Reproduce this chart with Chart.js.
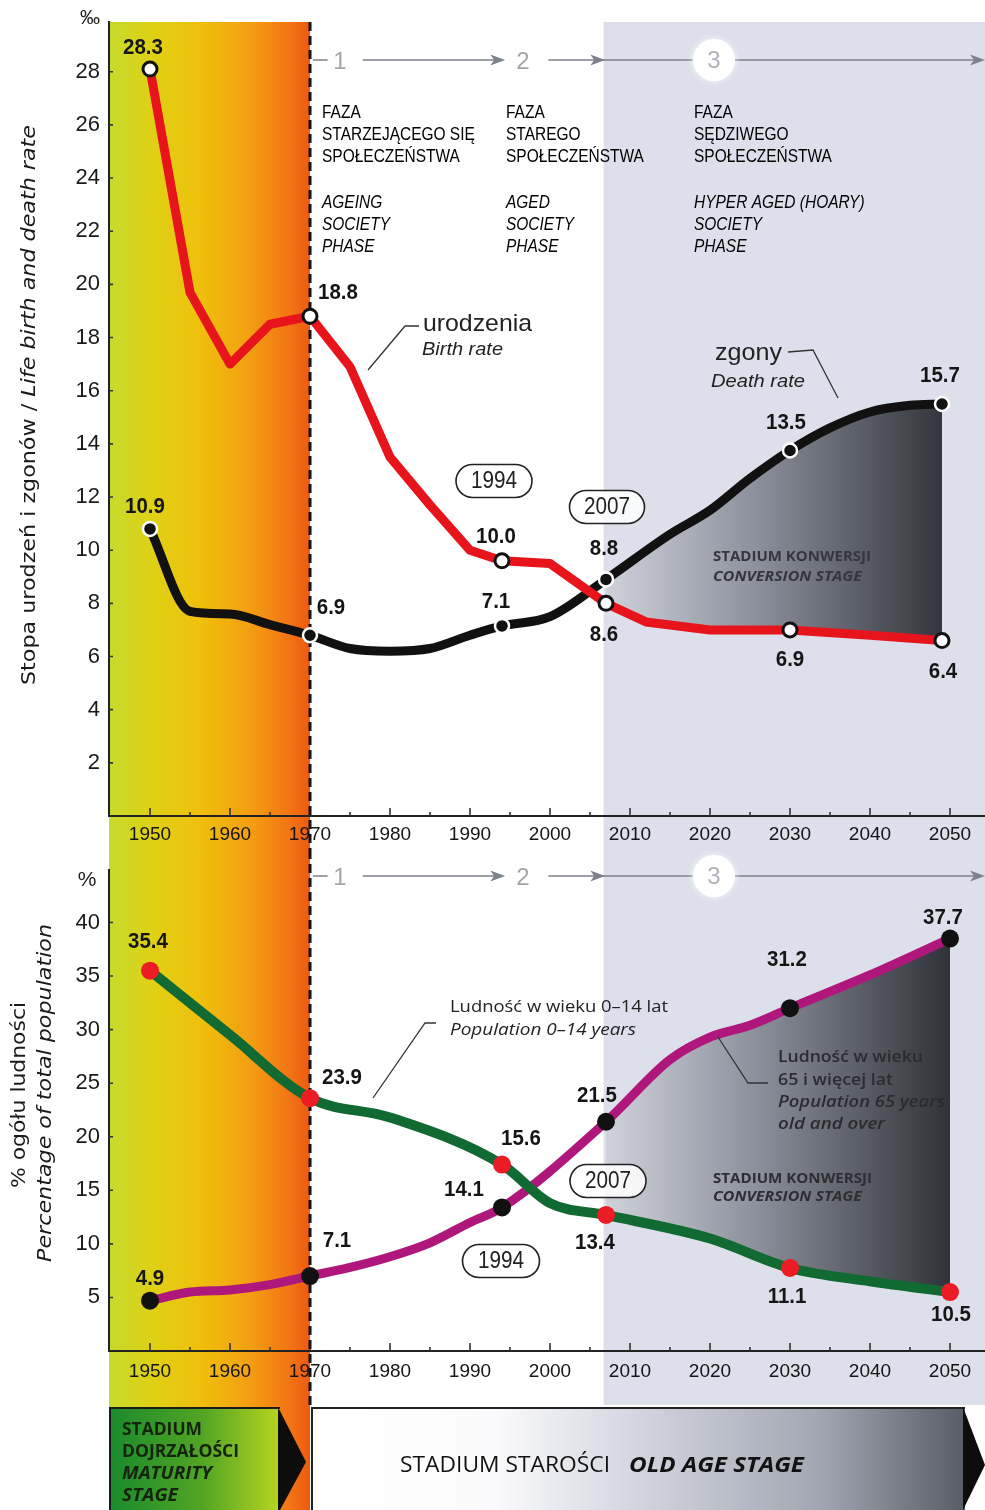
<!DOCTYPE html>
<html>
<head>
<meta charset="utf-8">
<script src="https://cdn.jsdelivr.net/npm/chart.js@4.4.1/dist/chart.umd.min.js"></script>
<style>
html, body { margin: 0; padding: 0; background: #fff; }
#wrap { width: 985px; height: 1510px; position: relative; overflow: hidden; }
canvas { display: block; }
</style>
</head>
<body>
<div id="wrap">
  <canvas id="rates" width="985" height="850"></canvas>
  <canvas id="shares" width="985" height="660"></canvas>
</div>
<script>
// ---- data ----
// top: births and deaths per 1000
const birthYears = [1950, 1955, 1960, 1965, 1970, 1975, 1980, 1985, 1990, 1994, 2000, 2007, 2012, 2020, 2030, 2040, 2049];
const birthRate  = [28.1, 19.7, 17.0, 18.5, 18.8, 16.9, 13.5, 11.7, 10.0, 9.6, 9.5, 8.0, 7.3, 7.0, 7.0, 6.8, 6.6];
const deathYears = [1950, 1955, 1960, 1965, 1970, 1975, 1980, 1985, 1990, 1994, 2000, 2007, 2015, 2020, 2025, 2030, 2035, 2040, 2045, 2049];
const deathRate  = [10.8, 7.7, 7.6, 7.2, 6.8, 6.3, 6.2, 6.3, 6.8, 7.15, 7.5, 8.9, 10.6, 11.5, 12.7, 13.75, 14.6, 15.2, 15.45, 15.5];

const birthMarks  = [1950, 1970, 1994, 2007, 2030, 2049];
const birthLabels = ['28.3', '18.8', '10.0', '8.6', '6.9', '6.4'];
const deathMarks  = [1950, 1970, 1994, 2007, 2030, 2049];
const deathLabels = ['10.9', '6.9', '7.1', '8.8', '13.5', '15.7'];

// bottom: share of population, %
const youngYears = [1950, 1960, 1970, 1980, 1994, 2000, 2007, 2020, 2030, 2040, 2050];
const youngShare = [35.5, 29.5, 23.6, 21.8, 17.4, 13.8, 12.7, 10.5, 7.75, 6.5, 5.5];
const oldYears   = [1950, 1955, 1960, 1965, 1970, 1975, 1980, 1985, 1990, 1994, 2007, 2015, 2020, 2025, 2030, 2040, 2050];
const oldShare   = [4.7, 5.5, 5.7, 6.2, 7.0, 7.8, 8.8, 10.1, 12.0, 13.4, 21.4, 27.2, 29.3, 30.4, 32.0, 35.1, 38.5];

const youngMarks  = [1950, 1970, 1994, 2007, 2030, 2050];
const youngLabels = ['35.4', '23.9', '15.6', '13.4', '11.1', '10.5'];
const oldMarks    = [1950, 1970, 1994, 2007, 2030, 2050];
const oldLabels   = ['4.9', '7.1', '14.1', '21.5', '31.2', '37.7'];

const xTicks = [1950, 1960, 1970, 1980, 1990, 2000, 2010, 2020, 2030, 2040, 2050];
const rateTicks = [2, 4, 6, 8, 10, 12, 14, 16, 18, 20, 22, 24, 26, 28];
const shareTicks = [5, 10, 15, 20, 25, 30, 35, 40];

// ---- layout (label nudges in px, kept apart from the data) ----
const birthNudge = [[-7, -21], [28, -23], [-6, -24], [-2, 32], [0, 30], [1, 31]];
const deathNudge = [[-5, -22], [21, -27], [-6, -24], [-2, -30], [-4, -28], [-2, -28]];
const youngNudge = [[-2, -29], [32, -20], [19, -26], [-11, 28], [-3, 29], [1, 23]];
const oldNudge   = [[0, -22], [27, -35], [-38, -18], [-9, -26], [-3, -48], [-7, -21]];

const X_MIN = 1944.875, X_MAX = 2054.375;
const GRAY_FROM = 2006.7;
const SANS = '"Liberation Sans", Arial, sans-serif';
const HUMAN = '"Open Sans", "Noto Sans", sans-serif';

const pts = (xs, ys) => xs.map((x, i) => ({ x: x, y: ys[i] }));
const from2007 = (xs, ys) => pts(xs, ys).filter(p => p.x >= 2007);
const marked = (years, marks, r) => c => marks.includes(years[c.dataIndex]) ? r : 0;

function say(ctx, s, x, y, font, color, opts) {
    opts = opts || {};
    ctx.save();
    ctx.font = font;
    ctx.fillStyle = color;
    ctx.textBaseline = 'middle';
    ctx.textAlign = 'left';
    const w = ctx.measureText(s).width;
    const sx = opts.width ? opts.width / w : (opts.sx || 1);
    let x0 = x;
    if (opts.align === 'center') x0 = x - w * sx / 2;
    if (opts.align === 'right') x0 = x - w * sx;
    ctx.translate(x0, y);
    ctx.scale(sx, 1);
    ctx.fillText(s, 0, 0);
    ctx.restore();
}

function pill(ctx, cx, cy, w, h, text) {
    ctx.save();
    ctx.beginPath();
    ctx.roundRect(cx - w / 2, cy - h / 2, w, h, h / 2);
    ctx.fillStyle = 'rgba(255,255,255,0.85)';
    ctx.fill();
    ctx.lineWidth = 1.6;
    ctx.strokeStyle = '#222';
    ctx.stroke();
    ctx.restore();
    say(ctx, text, cx, cy + 1, '23px ' + SANS, '#222', { align: 'center', sx: 0.9 });
}

function leader(ctx, pts) {
    ctx.save();
    ctx.strokeStyle = '#333';
    ctx.lineWidth = 1.3;
    ctx.beginPath();
    pts.forEach((p, i) => i ? ctx.lineTo(p[0], p[1]) : ctx.moveTo(p[0], p[1]));
    ctx.stroke();
    ctx.restore();
}

function arrowHead(ctx, x, y) {
    ctx.beginPath();
    ctx.moveTo(x, y);
    ctx.lineTo(x - 15, y - 5.5);
    ctx.lineTo(x - 11, y);
    ctx.lineTo(x - 15, y + 5.5);
    ctx.closePath();
    ctx.fill();
}

function convFill(c) {
    const ch = c.chart;
    if (!ch.chartArea) return 'rgba(0,0,0,0)';
    const xs = ch.scales.x;
    const g = ch.ctx.createLinearGradient(xs.getPixelForValue(2007), 0, xs.getPixelForValue(2050), 0);
    g.addColorStop(0, '#cfd2db');
    g.addColorStop(0.45, '#8a8e98');
    g.addColorStop(1, '#2f3238');
    return g;
}

// background bands, dashed 1970 line and phase arrows
function drawBands(chart, top, bottom, grayBottom) {
    const { ctx } = chart;
    const xs = chart.scales.x, a = chart.chartArea;
    const x70 = xs.getPixelForValue(1970), xg = xs.getPixelForValue(GRAY_FROM);
    const g = ctx.createLinearGradient(a.left, 0, x70, 0);
    g.addColorStop(0, '#c7da2c');
    g.addColorStop(0.22, '#dfd014');
    g.addColorStop(0.45, '#efc00c');
    g.addColorStop(0.7, '#f39f12');
    g.addColorStop(0.9, '#f27414');
    g.addColorStop(1, '#ee5a10');
    ctx.save();
    ctx.fillStyle = g;
    ctx.fillRect(a.left, top, x70 - a.left, bottom - top);
    ctx.fillStyle = '#dde0eb';
    ctx.fillRect(xg, top, chart.width - xg, grayBottom - top);
    ctx.restore();
}

function drawDash(chart, top, bottom) {
    const { ctx } = chart;
    const x = chart.scales.x.getPixelForValue(1970);
    ctx.save();
    ctx.strokeStyle = '#111';
    ctx.lineWidth = 3;
    ctx.setLineDash([9, 5]);
    ctx.beginPath();
    ctx.moveTo(x, top);
    ctx.lineTo(x, bottom);
    ctx.stroke();
    ctx.restore();
}

function drawPhases(chart, y) {
    const { ctx } = chart;
    const px = v => chart.scales.x.getPixelForValue(v);
    ctx.save();
    ctx.strokeStyle = '#7d818b';
    ctx.fillStyle = '#7d818b';
    ctx.lineWidth = 1.5;
    ctx.beginPath();
    ctx.moveTo(px(1970) + 3, y); ctx.lineTo(px(1972.2), y);
    ctx.moveTo(px(1976.6), y); ctx.lineTo(px(1993.6), y);
    ctx.moveTo(px(1999.8), y); ctx.lineTo(px(2018), y);
    ctx.moveTo(px(2023), y); ctx.lineTo(px(X_MAX) - 4, y);
    ctx.stroke();
    arrowHead(ctx, px(1994.4), y);
    arrowHead(ctx, px(2006.9), y);
    arrowHead(ctx, px(X_MAX), y);
    ctx.fillStyle = '#fff';
    ctx.shadowColor = 'rgba(255,255,255,0.9)';
    ctx.shadowBlur = 6;
    ctx.beginPath();
    ctx.arc(px(2020.5), y, 21, 0, Math.PI * 2);
    ctx.fill();
    ctx.restore();
    say(ctx, '1', px(1973.75), y + 2, '24px ' + SANS, '#a3a6ad', { align: 'center' });
    say(ctx, '2', px(1996.6), y + 2, '24px ' + SANS, '#a3a6ad', { align: 'center' });
    say(ctx, '3', px(2020.5), y + 1, '24px ' + SANS, '#b0b3ba', { align: 'center' });
}

function drawTickMarks(chart, yTicks) {
    const { ctx } = chart;
    const xs = chart.scales.x, ys = chart.scales.y, a = chart.chartArea;
    ctx.save();
    ctx.strokeStyle = '#333';
    ctx.lineWidth = 1.6;
    ctx.beginPath();
    for (let yr = 1950; yr <= 2050; yr += 5) {
        const x = xs.getPixelForValue(yr);
        ctx.moveTo(x, a.bottom);
        ctx.lineTo(x, a.bottom - (yr % 10 === 0 ? 8 : 4));
    }
    yTicks.forEach(v => {
        const y = ys.getPixelForValue(v);
        ctx.moveTo(a.left, y);
        ctx.lineTo(a.left + 4, y);
    });
    ctx.stroke();
    ctx.restore();
}

function drawValueLabels(chart) {
    const { ctx } = chart;
    chart.data.datasets.forEach((ds, i) => {
        if (!ds.valueLabels) return;
        const meta = chart.getDatasetMeta(i);
        ds.valueLabels.marks.forEach((yr, k) => {
            const idx = ds.data.findIndex(p => p.x === yr);
            const el = meta.data[idx];
            if (!el) return;
            const off = ds.valueLabels.nudge[k];
            say(ctx, ds.valueLabels.text[k], el.x + off[0], el.y + off[1], 'bold 22px ' + SANS, '#151515', { align: 'center', sx: 0.93 });
        });
    });
}

function scalesFor(yMin, yMax, yTicks, xHeight, xPad) {
    return {
        x: {
            type: 'linear', min: X_MIN, max: X_MAX,
            afterFit: s => { s.height = xHeight; s.paddingLeft = 0; s.paddingRight = 0; },
            afterBuildTicks: s => { s.ticks = xTicks.map(v => ({ value: v })); },
            ticks: { color: '#151515', font: { family: SANS, size: 19 }, padding: xPad, maxRotation: 0, autoSkip: false, callback: v => String(v) },
            grid: { display: false, drawTicks: false },
            border: { color: '#222', width: 2 }
        },
        y: {
            min: yMin, max: yMax,
            afterFit: s => { s.width = 109; s.paddingTop = 0; s.paddingBottom = 0; },
            afterBuildTicks: s => { s.ticks = yTicks.map(v => ({ value: v })); },
            ticks: { color: '#1a1a1a', font: { family: SANS, size: 22 }, padding: 9, callback: v => String(v) },
            grid: { display: false, drawTicks: false },
            border: { color: '#222', width: 2 }
        }
    };
}

const lineStyle = { borderJoinStyle: 'round', borderCapStyle: 'round', fill: false };

// ---------------- top chart: birth and death rate ----------------
const ratesDecor = {
    id: 'ratesDecor',
    beforeDraw(chart) {
        drawBands(chart, chart.chartArea.top, chart.height, chart.height);
    },
    beforeDatasetsDraw(chart) {
        const { ctx } = chart;
        drawTickMarks(chart, rateTicks);
        drawDash(chart, chart.chartArea.top, chart.height);
        drawPhases(chart, 60);

        const ph = '18px ' + SANS, phi = 'italic 18px ' + SANS, c = '#000';
        const cols = [
            { x: 322, pl: ['FAZA', 'STARZEJĄCEGO SIĘ', 'SPOŁECZEŃSTWA'], en: ['AGEING', 'SOCIETY', 'PHASE'] },
            { x: 506, pl: ['FAZA', 'STAREGO', 'SPOŁECZEŃSTWA'], en: ['AGED', 'SOCIETY', 'PHASE'] },
            { x: 694, pl: ['FAZA', 'SĘDZIWEGO', 'SPOŁECZEŃSTWA'], en: ['HYPER AGED (HOARY)', 'SOCIETY', 'PHASE'] }
        ];
        cols.forEach(col => {
            col.pl.forEach((s, i) => say(ctx, s, col.x, 113 + i * 22, ph, c, { sx: 0.86 }));
            col.en.forEach((s, i) => say(ctx, s, col.x, 203 + i * 22, phi, c, { sx: 0.86 }));
        });

        say(ctx, 'urodzenia', 423, 324, '24px ' + SANS, '#222', { width: 109 });
        say(ctx, 'Birth rate', 422, 350, 'italic 18px ' + SANS, '#222', { width: 81 });
        leader(ctx, [[368, 370], [405, 326], [419, 326]]);
        say(ctx, 'zgony', 715, 353, '24px ' + SANS, '#222', { width: 67 });
        say(ctx, 'Death rate', 711, 382, 'italic 18px ' + SANS, '#222', { width: 94 });
        leader(ctx, [[788, 352], [813, 350], [838, 398]]);

        pill(ctx, 494, 481, 76, 33, '1994');
        pill(ctx, 607, 507, 75, 33, '2007');

        // "per mille" unit and y title
        say(ctx, '‰', 90, 18, '20px ' + SANS, '#222', { align: 'center' });
        ctx.save();
        ctx.translate(30, 405);
        ctx.rotate(-Math.PI / 2);
        const f1 = '20px "DejaVu Sans", sans-serif', f2 = 'italic 20px "DejaVu Sans", sans-serif';
        const t1 = 'Stopa urodzeń i zgonów / ', t2 = 'Life birth and death rate';
        ctx.font = f1; const w1 = ctx.measureText(t1).width;
        ctx.font = f2; const w2 = ctx.measureText(t2).width;
        const k = 560 / (w1 + w2);
        ctx.scale(k, 1);
        ctx.textBaseline = 'middle';
        ctx.fillStyle = '#1a1a1a';
        ctx.font = f1; ctx.fillText(t1, -(w1 + w2) / 2, 0);
        ctx.font = f2; ctx.fillText(t2, -(w1 + w2) / 2 + w1, 0);
        ctx.restore();
    },
    afterDatasetsDraw(chart) {
        const { ctx } = chart;
        say(ctx, 'STADIUM KONWERSJI', 713, 557, 'bold 15px ' + HUMAN, '#34363c', { width: 158 });
        say(ctx, 'CONVERSION STAGE', 713, 577, 'italic bold 15px ' + HUMAN, '#34363c', { width: 149 });
        drawValueLabels(chart);
    }
};

new Chart(document.getElementById('rates'), {
    type: 'line',
    data: {
        datasets: [
            Object.assign({
                label: 'Birth rate', data: pts(birthYears, birthRate),
                borderColor: '#e8141c', borderWidth: 9, tension: 0,
                pointRadius: marked(birthYears, birthMarks, 7),
                pointBackgroundColor: '#fff', pointBorderColor: '#111', pointBorderWidth: 3,
                valueLabels: { marks: birthMarks, text: birthLabels, nudge: birthNudge }
            }, lineStyle),
            Object.assign({
                label: 'Death rate', data: pts(deathYears, deathRate),
                borderColor: '#111', borderWidth: 9, cubicInterpolationMode: 'monotone',
                pointRadius: marked(deathYears, deathMarks, 7),
                pointBackgroundColor: '#111', pointBorderColor: '#fff', pointBorderWidth: 2.5,
                valueLabels: { marks: deathMarks, text: deathLabels, nudge: deathNudge }
            }, lineStyle),
            {
                label: 'conv-upper', data: from2007(deathYears, deathRate),
                borderWidth: 0, pointRadius: 0, cubicInterpolationMode: 'monotone',
                fill: '+1', backgroundColor: convFill
            },
            {
                label: 'conv-lower', data: from2007(birthYears, birthRate),
                borderWidth: 0, pointRadius: 0, fill: false
            }
        ]
    },
    options: {
        responsive: false, animation: false,
        layout: { autoPadding: false, padding: { top: 22, left: 0, right: 0, bottom: 0 } },
        plugins: { legend: { display: false }, tooltip: { enabled: false }, filler: { drawTime: 'beforeDatasetsDraw' } },
        scales: scalesFor(0, 29.87, rateTicks, 34, 7)
    },
    plugins: [ratesDecor]
});

// ---------------- bottom chart: age groups ----------------
const BAND_TOP = 557;   // y of the stage band inside the lower canvas

const sharesDecor = {
    id: 'sharesDecor',
    beforeDraw(chart) {
        drawBands(chart, 0, chart.height, BAND_TOP - 2);
    },
    beforeDatasetsDraw(chart) {
        const { ctx } = chart;
        const xs = chart.scales.x, a = chart.chartArea;
        drawTickMarks(chart, shareTicks);
        drawDash(chart, 0, BAND_TOP - 2);
        drawPhases(chart, 26);

        say(ctx, 'Ludność w wieku 0–14 lat', 450, 157, '16px ' + HUMAN, '#222', { width: 218 });
        say(ctx, 'Population 0–14 years', 450, 180, 'italic 16px ' + HUMAN, '#222', { width: 186 });
        leader(ctx, [[373, 248], [425, 173], [436, 173]]);

        pill(ctx, 608, 331, 76, 33, '2007');
        pill(ctx, 501, 411, 77, 33, '1994');

        say(ctx, '%', 87, 30, '21px ' + SANS, '#222', { align: 'center' });
        ctx.save();
        ctx.translate(20, 245);
        ctx.rotate(-Math.PI / 2);
        say(ctx, '% ogółu ludności', 0, 0, '20px "DejaVu Sans", sans-serif', '#1a1a1a', { align: 'center', width: 186 });
        ctx.restore();
        ctx.save();
        ctx.translate(46, 243);
        ctx.rotate(-Math.PI / 2);
        say(ctx, 'Percentage of total population', 0, 0, 'italic 20px "DejaVu Sans", sans-serif', '#1a1a1a', { align: 'center', width: 338 });
        ctx.restore();

        // stage band along the bottom
        const x70 = xs.getPixelForValue(1970);
        const bot = chart.height;
        const gg = ctx.createLinearGradient(a.left, 0, 280, 0);
        gg.addColorStop(0, '#1a8a2c');
        gg.addColorStop(0.55, '#52a524');
        gg.addColorStop(1, '#b8d420');
        ctx.save();
        ctx.fillStyle = gg;
        ctx.fillRect(a.left, BAND_TOP, 280 - a.left, bot - BAND_TOP);
        ctx.strokeStyle = '#1a1a1a';
        ctx.lineWidth = 2;
        ctx.beginPath();
        ctx.moveTo(a.left + 1, bot); ctx.lineTo(a.left + 1, BAND_TOP + 1); ctx.lineTo(280, BAND_TOP + 1);
        ctx.stroke();
        ctx.fillStyle = '#0d0d0d';
        ctx.beginPath();
        ctx.moveTo(278, BAND_TOP); ctx.lineTo(306, BAND_TOP + 55); ctx.lineTo(280, bot); ctx.lineTo(278, bot);
        ctx.closePath();
        ctx.fill();

        const gr = ctx.createLinearGradient(x70, 0, 965, 0);
        gr.addColorStop(0, '#ffffff');
        gr.addColorStop(0.28, '#fbfbfd');
        gr.addColorStop(0.48, '#d6d9e2');
        gr.addColorStop(0.78, '#a2a6b0');
        gr.addColorStop(1, '#585c65');
        ctx.fillStyle = gr;
        ctx.fillRect(x70 + 2, BAND_TOP, 965 - x70 - 2, bot - BAND_TOP);
        ctx.strokeStyle = '#222';
        ctx.beginPath();
        ctx.moveTo(x70 + 2, bot); ctx.lineTo(x70 + 2, BAND_TOP + 1); ctx.lineTo(965, BAND_TOP + 1);
        ctx.stroke();
        ctx.fillStyle = '#0d0d0d';
        ctx.beginPath();
        ctx.moveTo(963, BAND_TOP); ctx.lineTo(985, BAND_TOP + 58); ctx.lineTo(963, bot);
        ctx.closePath();
        ctx.fill();
        ctx.restore();

        const bf = 'bold 17px ' + HUMAN, bfi = 'italic bold 17px ' + HUMAN;
        say(ctx, 'STADIUM', 122, 580, bf, '#14240c', { width: 80 });
        say(ctx, 'DOJRZAŁOŚCI', 122, 602, bf, '#14240c', { width: 117 });
        say(ctx, 'MATURITY', 122, 624, bfi, '#14240c', { width: 90 });
        say(ctx, 'STAGE', 122, 646, bfi, '#14240c', { width: 56 });
        say(ctx, 'STADIUM STAROŚCI', 400, 616, '22px ' + HUMAN, '#111', { width: 210 });
        say(ctx, 'OLD AGE STAGE', 629, 616, 'italic bold 22px ' + HUMAN, '#111', { width: 175 });
    },
    afterDatasetsDraw(chart) {
        const { ctx } = chart;
        const c = '#2a2b30';
        say(ctx, 'Ludność w wieku', 778, 207, '600 16px ' + HUMAN, c, { width: 145 });
        say(ctx, '65 i więcej lat', 778, 230, '600 16px ' + HUMAN, c, { width: 115 });
        say(ctx, 'Population 65 years', 778, 252, 'italic 600 16px ' + HUMAN, c, { width: 167 });
        say(ctx, 'old and over', 778, 274, 'italic 600 16px ' + HUMAN, c, { width: 107 });
        leader(ctx, [[718, 187], [748, 233], [768, 233]]);
        say(ctx, 'STADIUM KONWERSJI', 713, 329, 'bold 15px ' + HUMAN, '#2c2e33', { width: 159 });
        say(ctx, 'CONVERSION STAGE', 713, 347, 'italic bold 15px ' + HUMAN, '#2c2e33', { width: 149 });
        drawValueLabels(chart);
    }
};

new Chart(document.getElementById('shares'), {
    type: 'line',
    data: {
        datasets: [
            Object.assign({
                label: 'Population 0–14', data: pts(youngYears, youngShare),
                borderColor: '#116a31', borderWidth: 10, cubicInterpolationMode: 'monotone',
                pointRadius: marked(youngYears, youngMarks, 9),
                pointBackgroundColor: '#ec1c24', pointBorderWidth: 0,
                valueLabels: { marks: youngMarks, text: youngLabels, nudge: youngNudge }
            }, lineStyle),
            Object.assign({
                label: 'Population 65+', data: pts(oldYears, oldShare),
                borderColor: '#b0177c', borderWidth: 9, cubicInterpolationMode: 'monotone',
                pointRadius: marked(oldYears, oldMarks, 9),
                pointBackgroundColor: '#111', pointBorderWidth: 0,
                valueLabels: { marks: oldMarks, text: oldLabels, nudge: oldNudge }
            }, lineStyle),
            {
                label: 'conv-upper', data: from2007(oldYears, oldShare),
                borderWidth: 0, pointRadius: 0, cubicInterpolationMode: 'monotone',
                fill: '+1', backgroundColor: convFill
            },
            {
                label: 'conv-lower', data: from2007(youngYears, youngShare),
                borderWidth: 0, pointRadius: 0, cubicInterpolationMode: 'monotone', fill: false
            }
        ]
    },
    options: {
        responsive: false, animation: false,
        layout: { autoPadding: false, padding: { top: 20, left: 0, right: 0, bottom: 0 } },
        plugins: { legend: { display: false }, tooltip: { enabled: false }, filler: { drawTime: 'beforeDatasetsDraw' } },
        scales: scalesFor(0, 44.9, shareTicks, 159, 9)
    },
    plugins: [sharesDecor]
});
</script>
</body>
</html>
